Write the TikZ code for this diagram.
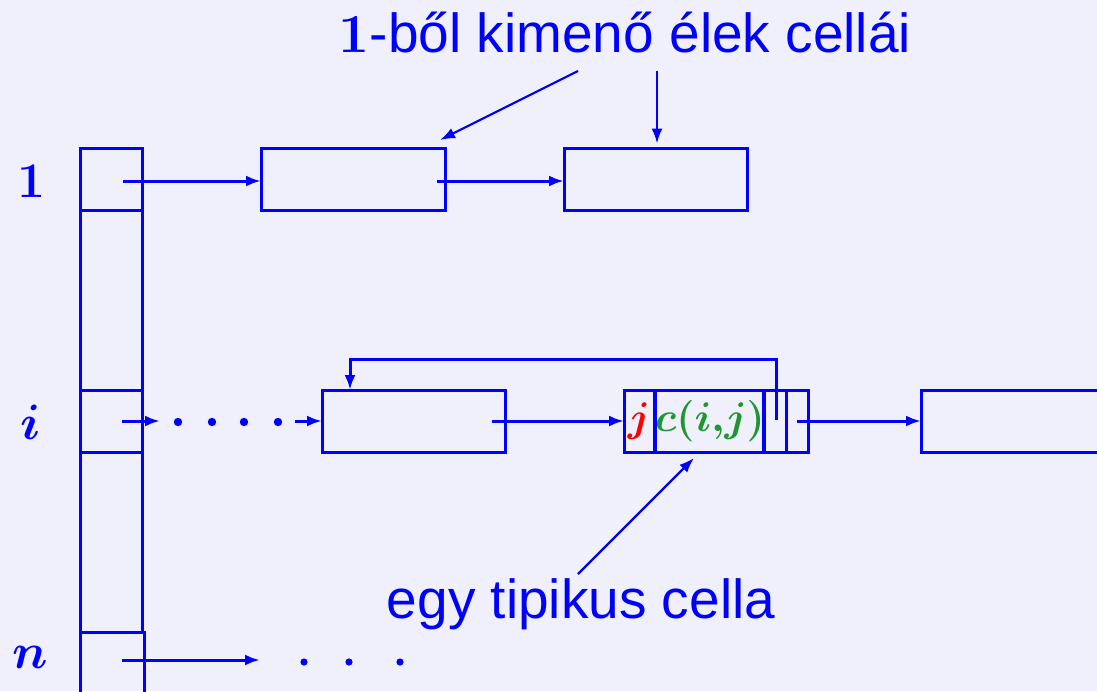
\documentclass[tikz,border=0pt]{standalone}
\usepackage{fontspec}
\setsansfont{Liberation Sans}
\usetikzlibrary{arrows.meta,calc}
\definecolor{bg}{RGB}{240,240,252}
\definecolor{cgreen}{RGB}{30,150,50}
\begin{document}
\begin{tikzpicture}[x=0.5pt,y=-0.5pt, line width=1.5pt, draw=blue,
  every node/.style={inner sep=0pt, outer sep=0pt},
  box/.style={draw=blue, line width=1.5pt, minimum width=92pt, minimum height=31pt},
  cellbox/.style={draw=blue, line width=1.5pt, minimum width=31pt, minimum height=31pt},
  arr/.style={blue, line width=1.5pt, -{Latex[length=7.5pt,width=5.5pt]}},
  thinarr/.style={blue, line width=1.1pt, -{Latex[length=7.5pt,width=5.5pt]}},
  lab/.style={font=\fontsize{27.5}{32}\selectfont\sffamily, text=blue},
  idx/.style={font=\fontsize{28}{32}\selectfont\boldmath, text=blue},
  cval/.style={font=\fontsize{20.5}{24}\selectfont\boldmath},
  dot/.style={circle, fill=blue, minimum size=4.2pt}]
\fill[bg] (0,0) rectangle (1097,691);
\useasboundingbox (0,0) rectangle (1097,691);

% left column
\draw[blue] (80,148) -- (80,700);
\draw[blue] (142,148) -- (142,632);
\node[cellbox] (c1) at (111,179) {};
\node[cellbox] (ci) at (111,421) {};
\node[draw=blue, line width=1.5pt, minimum width=32pt, minimum height=40pt] (cn) at (112,672) {};

% index labels
\node[idx] (l1) at (31,181) {$1$};
\node[idx] (li) at (31,422) {$i$};
\node[idx] (ln) at (30,657) {$n$};

% row 1
\node[box] (a1) at (353,179) {};
\node[box, minimum width=91.5pt] (a2) at (655.5,179.5) {};
\draw[arr] ($(c1.center)+(12,2)$) -- ($(a1.west)+(0,2)$);
\draw[arr] ($(a1.east)+(-8,2)$) -- ($(a2.west)+(0,1.5)$);

% title
\node[lab, anchor=base] (t1) at (625,52) {{\rmfamily\bfseries 1}-ből kimenő élek cellái};
\coordinate (p1) at (578,71);
\coordinate (p2) at (657,71);
\draw[thinarr] (p1) -- ($(a1.north east)+(-5,-8)$);
\draw[thinarr] (p2) -- ($(a2.north)+(1.5,-5)$);

% row i
\coordinate (d0) at (160,421);
\draw[arr] ($(ci.center)+(11,0)$) -- (d0);
\node[dot] (dt1) at (178,422) {};
\node[dot] (dt2) at (212,422) {};
\node[dot] (dt3) at (244,422) {};
\node[dot] (dt4) at (278,422) {};
\coordinate (d1) at (295,421);
\node[box, minimum width=91.5pt] (b1) at (413.5,421) {};
\draw[arr] (d1) -- (b1.west);

% typical cell
\node[box] (tc) at (716,421) {};
\draw[blue, line width=2.1pt] ($(tc.north west)+(31,0)$) -- ($(tc.south west)+(31,0)$);
\draw[blue, line width=2.1pt] ($(tc.north west)+(140,0)$) -- ($(tc.south west)+(140,0)$);
\draw[blue] ($(tc.north west)+(162,0)$) -- ($(tc.south west)+(162,0)$);
\node[cval, text=red] (tj) at (639,421) {$j$};
\node[cval, text=cgreen] (tcv) at (710,421) {$c(i{,}j)$};
\draw[arr] ($(b1.east)+(-13,0)$) -- (tc.west);

% back pointer
\coordinate (bp) at (776,420);
\draw[arr] (bp) |- (350,359) -- ($(b1.north west)+(28,0)$);

% right cell
\node[box] (r1) at (1013,421) {};
\draw[arr] ($(tc.east)+(-11,0)$) -- (r1.west);

% typical cell label
\node[lab, anchor=base] (t2) at (581,618) {egy tipikus cella};
\coordinate (p3) at (578,574);
\draw[thinarr] (p3) -- ($(tc.south west)+(70,6)$);

% row n
\coordinate (e1) at (260,660);
\draw[arr] ($(cn.west)+(42,-12)$) -- (e1);
\node[dot, minimum size=3.6pt] (n1) at (304,662) {};
\node[dot, minimum size=3.6pt] (n2) at (349,662) {};
\node[dot, minimum size=3.6pt] (n3) at (400,662) {};
\end{tikzpicture}
\end{document}
